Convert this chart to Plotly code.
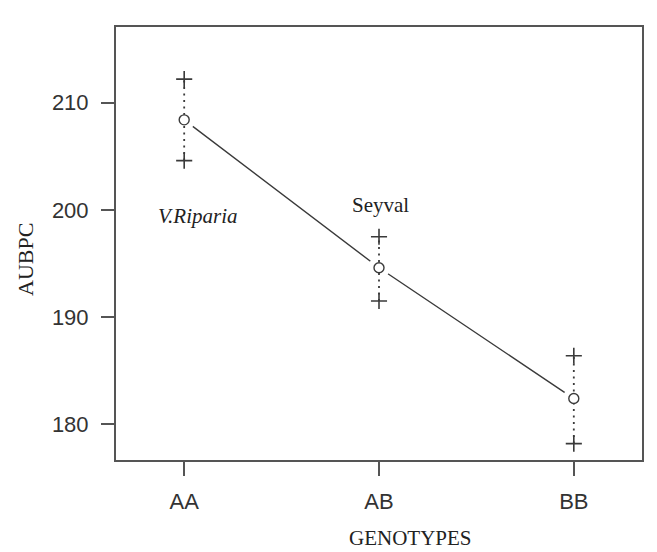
import plotly.graph_objects as go

genotypes = ["AA", "AB", "BB"]
xpos = [1, 2, 3]
means = [208.4, 194.6, 182.4]
upper = [212.2, 197.5, 186.4]
lower = [204.6, 191.5, 178.2]
yticks = [180, 190, 200, 210]
labels = [("V.Riparia", 1.07, 199.4, True), ("Seyval", 2.01, 200.5, False)]

ink = "#3a3a3a"
fig = go.Figure()

# mean line
fig.add_trace(go.Scatter(x=xpos, y=means, mode="lines",
                         line=dict(color=ink, width=1.4), hoverinfo="skip"))
# white gaps around the points (R type="b")
fig.add_trace(go.Scatter(x=xpos, y=means, mode="markers",
                         marker=dict(symbol="circle", size=22, color="white",
                                     line=dict(width=0)), hoverinfo="skip"))
# dotted intervals
for x, lo, hi in zip(xpos, lower, upper):
    fig.add_trace(go.Scatter(x=[x, x], y=[lo, hi], mode="lines",
                             line=dict(color=ink, width=1.8, dash="2px,4.5px"),
                             hoverinfo="skip"))
# plus markers at ends
fig.add_trace(go.Scatter(x=xpos + xpos, y=upper + lower, mode="markers",
                         marker=dict(symbol="cross-thin", size=11.5,
                                     line=dict(color=ink, width=1.6)),
                         hoverinfo="skip"))
# open circle means
fig.add_trace(go.Scatter(x=xpos, y=means, mode="markers",
                         marker=dict(symbol="circle", size=10, color="white",
                                     line=dict(color=ink, width=1.4)),
                         hoverinfo="skip"))

for text, x, y, ital in labels:
    fig.add_annotation(x=x, y=y, text=f"<i>{text}</i>" if ital else text,
                       showarrow=False,
                       font=dict(family="Liberation Serif", size=21, color="#222"))

fig.add_annotation(xref="paper", yref="paper", x=-0.171, y=0.462,
                   xanchor="center", yanchor="middle",
                   text="AUBPC", textangle=-90, showarrow=False,
                   font=dict(family="Liberation Serif", size=22, color="#222"))
fig.add_annotation(xref="paper", yref="paper", x=0.559, y=-0.18,
                   xanchor="center", yanchor="middle",
                   text="GENOTYPES", showarrow=False,
                   font=dict(family="Liberation Serif", size=21, color="#222"))

fig.update_layout(
    width=657, height=552,
    margin=dict(l=116, r=15, t=27, b=92),
    paper_bgcolor="white", plot_bgcolor="white",
    showlegend=False,
    font=dict(family="Liberation Sans", size=22, color="#333"),
)
fig.update_xaxes(range=[0.65, 3.35], tickvals=xpos, ticktext=genotypes,
                 showgrid=False, zeroline=False, showline=True, mirror=True,
                 linecolor="#555", linewidth=2, ticks="outside", ticklen=14,
                 tickcolor="#555", tickwidth=1.5, ticklabelstandoff=7)
fig.update_yaxes(range=[176.67, 217.06], tickvals=yticks,
                 showgrid=False, zeroline=False, showline=True, mirror=True,
                 linecolor="#555", linewidth=2, ticks="outside", ticklen=13,
                 tickcolor="#555", tickwidth=1.5, ticklabelstandoff=8)

fig.write_html("out.html")
